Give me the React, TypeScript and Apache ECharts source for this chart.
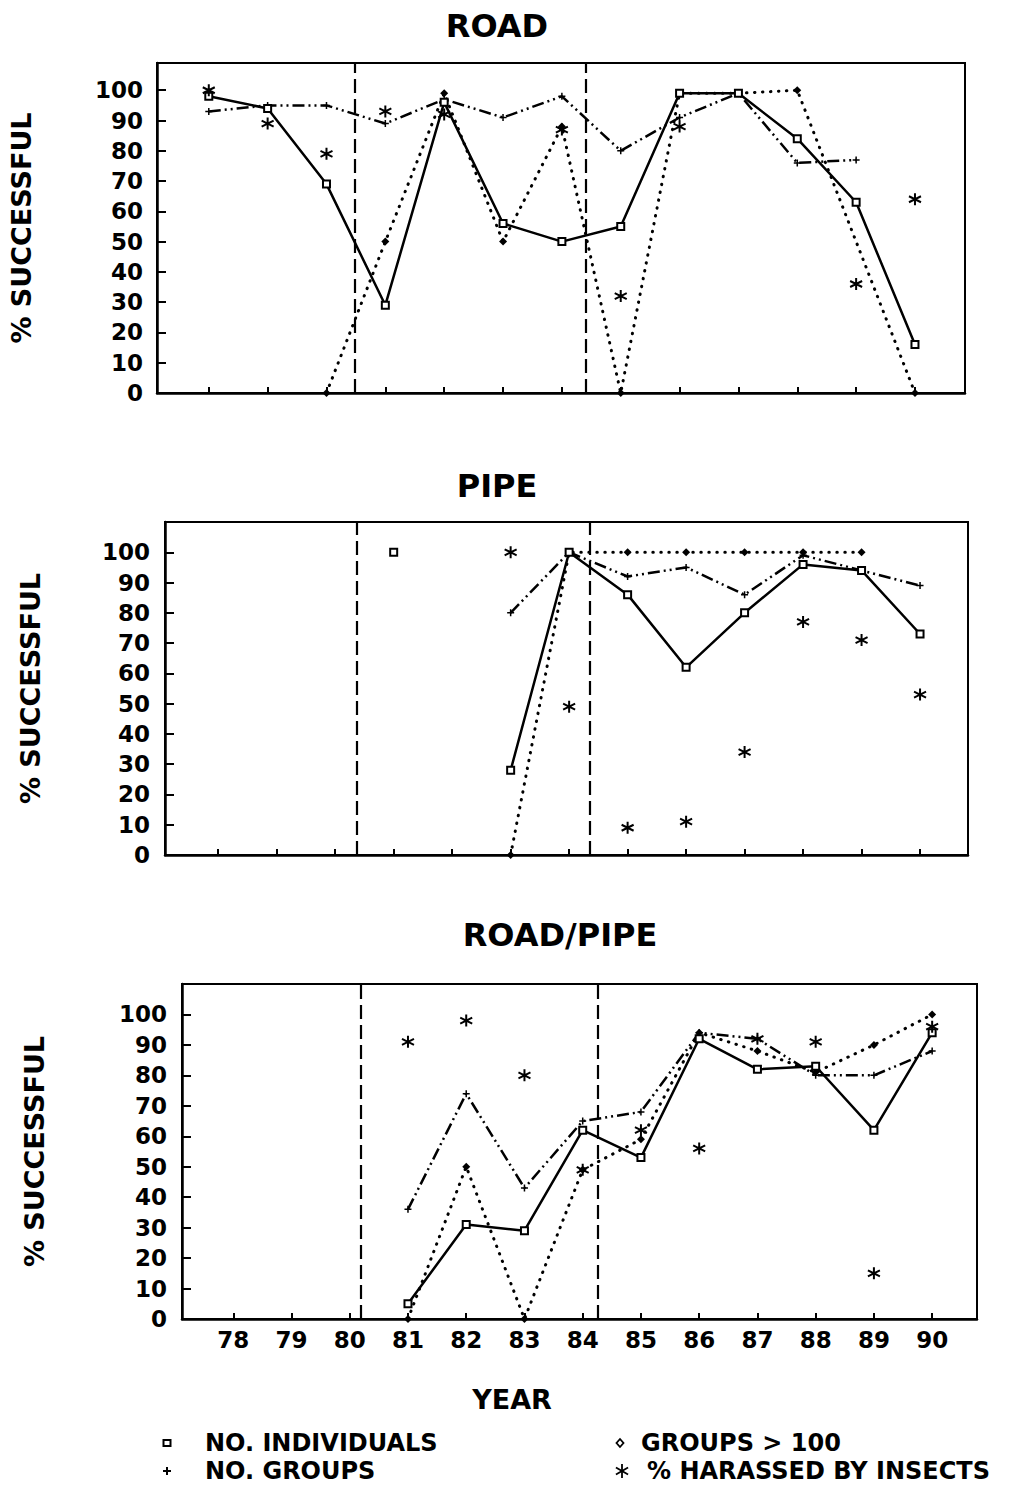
import React, { useEffect, useRef } from "react";
import * as echarts from "echarts";

// ---------- data ----------
const years = [78, 79, 80, 81, 82, 83, 84, 85, 86, 87, 88, 89, 90];
const yTicks = [0, 10, 20, 30, 40, 50, 60, 70, 80, 90, 100];

const seriesNames = ["NO. INDIVIDUALS", "NO. GROUPS", "GROUPS > 100", "% HARASSED BY INSECTS"];
const panelTitles = ["ROAD", "PIPE", "ROAD/PIPE"];

// ROAD
const roadIndividuals = [98, 94, 69, 29, 96, 56, 50, 55, 99, 99, 84, 63, 16];
const roadGroups = [93, 95, 95, 89, 97, 91, 98, 80, 91, 99, 76, 77, null];
const roadGroups100 = [null, null, 0, 50, 99, 50, 88, 0, 99, 99, 100, null, 0];
const roadHarassed = [100, 89, 79, 93, 92, null, 87, 32, 88, null, null, 36, 64];

// PIPE
const pipeIndividuals = [null, null, null, 100, null, 28, 100, 86, 62, 80, 96, 94, 73];
const pipeGroups = [null, null, null, null, null, 80, 100, 92, 95, 86, 99, 94, 89];
const pipeGroups100 = [null, null, null, null, null, 0, 100, 100, 100, 100, 100, 100, null];
const pipeHarassed = [null, null, null, null, null, 100, 49, 9, 11, 34, 77, 71, 53];

// ROAD/PIPE
const rpIndividuals = [null, null, null, 5, 31, 29, 62, 53, 92, 82, 83, 62, 94];
const rpGroups = [null, null, null, 36, 74, 43, 65, 68, 94, 92, 80, 80, 88];
const rpGroups100 = [null, null, null, 0, 50, 0, 49, 59, 94, 88, 81, 90, 100];
const rpHarassed = [null, null, null, 91, 98, 80, 49, 62, 56, 92, 91, 15, 96];

// period boundaries (dashed verticals), per panel as drawn
const roadDividers = [80.48, 84.41];
const pipeDividers = [80.37, 84.36];
const rpDividers = [80.19, 84.26];

// ---------- styling ----------
const FONT = "DejaVu Sans";
const BLACK = "#000";
const PLUS = "path://M5,0L5,10M0,5L10,5";
const STAR = "path://M5,0L5,10M0.67,2.5L9.33,7.5M0.67,7.5L9.33,2.5";

const layouts = [
  { left: 155, top: 63, width: 810, height: 330, xMin: 77.12, xMax: 90.85, yMax: 109, nameGap: 122, labelMargin: 14, titleX: 497, titleY: 26 },
  { left: 165, top: 522, width: 803, height: 333, xMin: 77.09, xMax: 90.82, yMax: 110, nameGap: 121, labelMargin: 15, titleX: 497, titleY: 486 },
  { left: 182, top: 984, width: 795, height: 335, xMin: 77.12, xMax: 90.77, yMax: 110, nameGap: 134, labelMargin: 15, titleX: 560, titleY: 935 },
];

const panelData = [
  { ind: roadIndividuals, grp: roadGroups, g100: roadGroups100, har: roadHarassed, div: roadDividers },
  { ind: pipeIndividuals, grp: pipeGroups, g100: pipeGroups100, har: pipeHarassed, div: pipeDividers },
  { ind: rpIndividuals, grp: rpGroups, g100: rpGroups100, har: rpHarassed, div: rpDividers },
];

const toPairs = (vals: (number | null)[]) =>
  years.map((y, i) => [y, vals[i] === null ? "-" : vals[i]]);
const toPoints = (vals: (number | null)[]) =>
  years.map((y, i) => (vals[i] === null ? null : [y, vals[i]])).filter((d) => d !== null);

function buildOption() {
  const grid: any[] = [];
  const xAxis: any[] = [];
  const yAxis: any[] = [];
  const series: any[] = [];
  const graphic: any[] = [];

  layouts.forEach((L, i) => {
    const D = panelData[i];
    const last = i === layouts.length - 1;
    grid.push({
      left: L.left,
      top: L.top,
      width: L.width,
      height: L.height,
      show: true,
      borderColor: BLACK,
      borderWidth: 2,
      backgroundColor: "transparent",
    });
    xAxis.push({
      type: "value",
      gridIndex: i,
      min: L.xMin,
      max: L.xMax,
      axisLine: { show: true, onZero: false, lineStyle: { color: BLACK, width: 2.5 } },
      axisTick: { show: true, inside: true, length: 6, customValues: years, lineStyle: { color: BLACK, width: 2 } },
      axisLabel: {
        show: last,
        customValues: years,
        margin: 9,
        color: BLACK,
        fontFamily: FONT,
        fontWeight: "bold",
        fontSize: 23,
      },
      splitLine: { show: false },
    });
    yAxis.push({
      type: "value",
      gridIndex: i,
      min: 0,
      max: L.yMax,
      name: "% SUCCESSFUL",
      nameLocation: "middle",
      nameRotate: 90,
      nameGap: L.nameGap,
      nameTextStyle: { color: BLACK, fontFamily: FONT, fontWeight: "bold", fontSize: 27 },
      axisLine: { show: true, onZero: false, lineStyle: { color: BLACK, width: 2.5 } },
      axisTick: { show: true, inside: true, length: 9, customValues: yTicks, lineStyle: { color: BLACK, width: 2 } },
      axisLabel: {
        customValues: yTicks,
        margin: L.labelMargin,
        color: BLACK,
        fontFamily: FONT,
        fontWeight: "bold",
        fontSize: 23,
      },
      splitLine: { show: false },
    });

    series.push({
      name: seriesNames[0],
      type: "line",
      xAxisIndex: i,
      yAxisIndex: i,
      data: toPairs(D.ind),
      connectNulls: false,
      symbol: "rect",
      symbolSize: 7,
      showSymbol: true,
      lineStyle: { color: BLACK, width: 2.5, type: "solid" },
      itemStyle: { color: "#fff", borderColor: BLACK, borderWidth: 2 },
      z: 4,
      markLine: {
        silent: true,
        symbol: "none",
        label: { show: false },
        lineStyle: { color: BLACK, width: 2.2, type: [14, 6] },
        data: D.div.map((v) => ({ xAxis: v })),
      },
    });
    series.push({
      name: seriesNames[1],
      type: "line",
      xAxisIndex: i,
      yAxisIndex: i,
      data: toPairs(D.grp),
      connectNulls: false,
      symbol: PLUS,
      symbolSize: 7,
      showSymbol: true,
      lineStyle: { color: BLACK, width: 2.5, type: [12, 4, 2, 4, 2, 4] },
      itemStyle: { color: BLACK, borderColor: BLACK, borderWidth: 1.5 },
      z: 3,
    });
    series.push({
      name: seriesNames[2],
      type: "line",
      xAxisIndex: i,
      yAxisIndex: i,
      data: toPairs(D.g100),
      connectNulls: true,
      symbol: "diamond",
      symbolSize: [8, 8],
      showSymbol: true,
      lineStyle: { color: BLACK, width: 3, type: [0.5, 7.5], cap: "round" },
      itemStyle: { color: BLACK },
      z: 3,
    });
    series.push({
      name: seriesNames[3],
      type: "scatter",
      xAxisIndex: i,
      yAxisIndex: i,
      data: toPoints(D.har),
      symbol: STAR,
      symbolSize: 12,
      itemStyle: { color: "rgba(0,0,0,0)", borderColor: BLACK, borderWidth: 2, opacity: 1 },
      z: 5,
    });

    graphic.push({
      type: "text",
      x: L.titleX,
      y: L.titleY,
      style: {
        text: panelTitles[i],
        align: "center",
        verticalAlign: "middle",
        fill: BLACK,
        font: `bold 32px '${FONT}'`,
      },
    });
  });

  // x axis name
  graphic.push({
    type: "text",
    x: 512,
    y: 1399,
    style: { text: "YEAR", align: "center", verticalAlign: "middle", fill: BLACK, font: `bold 27px '${FONT}'` },
  });

  // legend
  const legendFont = `bold 24px '${FONT}'`;
  const legendItems = [
    { x: 167, y: 1443, tx: 205, name: seriesNames[0], kind: "rect" },
    { x: 167, y: 1471, tx: 205, name: seriesNames[1], kind: "plus" },
    { x: 620, y: 1443, tx: 641, name: seriesNames[2], kind: "diamond" },
    { x: 622, y: 1471, tx: 647, name: seriesNames[3], kind: "star" },
  ];
  legendItems.forEach((it) => {
    if (it.kind === "rect") {
      graphic.push({ type: "rect", shape: { x: it.x - 3.5, y: it.y - 3, width: 7, height: 6 }, style: { fill: "#fff", stroke: BLACK, lineWidth: 2 } });
    } else if (it.kind === "plus") {
      graphic.push({ type: "line", shape: { x1: it.x - 4, y1: it.y, x2: it.x + 4, y2: it.y }, style: { stroke: BLACK, lineWidth: 2 } });
      graphic.push({ type: "line", shape: { x1: it.x, y1: it.y - 4, x2: it.x, y2: it.y + 4 }, style: { stroke: BLACK, lineWidth: 2 } });
    } else if (it.kind === "diamond") {
      graphic.push({
        type: "polygon",
        shape: { points: [[it.x, it.y - 4], [it.x + 3.5, it.y], [it.x, it.y + 4], [it.x - 3.5, it.y]] },
        style: { fill: "#fff", stroke: BLACK, lineWidth: 1.8 },
      });
    } else {
      const r = 7;
      [90, 30, -30].forEach((deg) => {
        const a = (deg * Math.PI) / 180;
        graphic.push({
          type: "line",
          shape: { x1: it.x - r * Math.cos(a), y1: it.y - r * Math.sin(a), x2: it.x + r * Math.cos(a), y2: it.y + r * Math.sin(a) },
          style: { stroke: BLACK, lineWidth: 1.8 },
        });
      });
    }
    graphic.push({
      type: "text",
      x: it.tx,
      y: it.y,
      style: { text: it.name, align: "left", verticalAlign: "middle", fill: BLACK, font: legendFont },
    });
  });

  return {
    animation: false,
    backgroundColor: "#fff",
    grid,
    xAxis,
    yAxis,
    series,
    graphic,
  };
}

export default function App() {
  const ref = useRef<HTMLDivElement>(null);
  useEffect(() => {
    if (!ref.current) return;
    const chart = echarts.init(ref.current, undefined, { renderer: "svg" });
    chart.setOption(buildOption() as any);
    return () => chart.dispose();
  }, []);
  return (
    <div
      ref={ref}
      style={{ position: "absolute", left: 0, top: 0, width: 1022, height: 1487, background: "#fff" }}
    />
  );
}
